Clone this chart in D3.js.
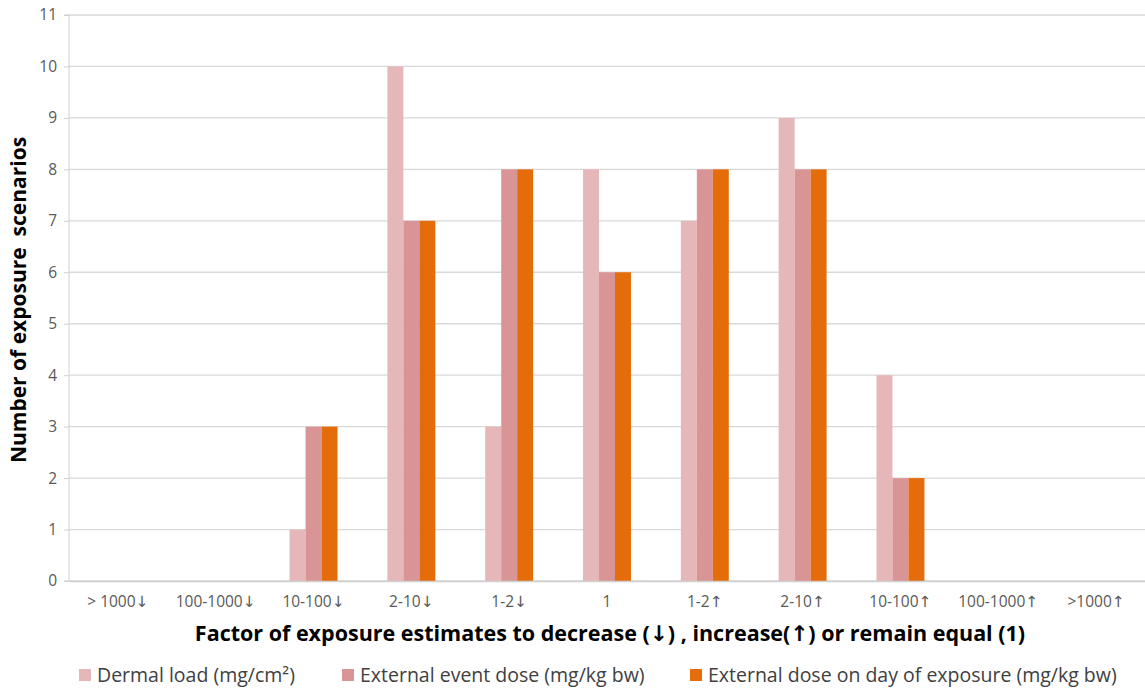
<!DOCTYPE html>
<html><head><meta charset="utf-8">
<script src="https://cdn.jsdelivr.net/npm/d3@7"></script>
<style>body{margin:0;background:#fff}svg{display:block}text{font-family:"Open Sans","Liberation Sans",sans-serif}</style>
</head><body><svg id="c" width="1145" height="691"></svg>
<script>
const categories = ["> 1000↓","100-1000↓","10-100↓","2-10↓","1-2↓","1","1-2↑","2-10↑","10-100↑","100-1000↑",">1000↑"];
const seriesNames = ["Dermal load (mg/cm²)","External event dose (mg/kg bw)","External dose on day of exposure (mg/kg bw)"];
const dermalLoad = [0,0,1,10,3,8,7,9,4,0,0];
const externalEventDose = [0,0,3,7,8,6,8,8,2,0,0];
const externalDoseDay = [0,0,3,7,8,6,8,8,2,0,0];
const yTicks = [0,1,2,3,4,5,6,7,8,9,10,11];
const colors = ["#E6B7B8","#D99595","#E46C0A"];
const series = [dermalLoad, externalEventDose, externalDoseDay];

const svg = d3.select("#c");
const m = {l:69, r:1145, t:15, b:581};
const x = d3.scaleBand().domain(categories).range([m.l, m.r]).paddingInner(0).paddingOuter(0);
const y = d3.scaleLinear().domain([0,11]).range([m.b, m.t]);
const groupW = x.bandwidth()*0.49;
const x1 = d3.scaleBand().domain(d3.range(3)).range([0, groupW]);

// split text so arrows render in a font with full-size arrow glyphs
function arrowText(sel, str) {
  sel.text(null);
  str.split(/([↑↓])/).filter(s => s.length).forEach(part => {
    const t = sel.append("tspan").text(part);
    if (part === "↑" || part === "↓") t.style("font-family", '"DejaVu Sans",sans-serif');
  });
}

// gridlines
svg.append("g").selectAll("line").data(yTicks).join("line")
  .attr("x1", m.l).attr("x2", m.r)
  .attr("y1", d=>y(d)).attr("y2", d=>y(d))
  .attr("stroke", "#d9d9d9").attr("stroke-width", 1.3);

// bars
series.forEach((vals, si) => {
  svg.append("g").selectAll("rect").data(categories.map((c,i)=>({c, v: vals[i]})).filter(d=>d.v>0)).join("rect")
    .attr("x", d => x(d.c) + (x.bandwidth()-groupW)/2 + x1(si))
    .attr("y", d => y(d.v))
    .attr("width", x1.bandwidth())
    .attr("height", d => y(0) - y(d.v))
    .attr("fill", colors[si]);
});

// y axis
const yAxis = d3.axisLeft(y).tickValues(yTicks).tickSize(5).tickPadding(7);
const ya = svg.append("g").attr("transform", `translate(${m.l},0)`).call(yAxis);
ya.select(".domain").attr("stroke", "#d0d0d0").attr("d", `M-5,${m.t}H0V${m.b}H-5`);
ya.selectAll(".tick line").attr("stroke", "#d0d0d0");
ya.selectAll(".tick text").attr("fill", "#595959").style("font-size", "15.5px");

// x axis
const xAxis = d3.axisBottom(x).tickSize(0).tickPadding(15);
const xa = svg.append("g").attr("transform", `translate(0,${m.b})`).call(xAxis);
xa.select(".domain").attr("stroke", "#d0d0d0").attr("stroke-width", 1.3);
xa.selectAll(".tick text").attr("fill", "#595959").style("font-size", "15.5px")
  .each(function(d){ arrowText(d3.select(this), d); });

// axis titles
const xt = svg.append("text").attr("x", 610).attr("y", 641).attr("text-anchor", "middle")
  .style("font-size", "21.5px").style("font-weight", "bold").attr("fill", "#000");
arrowText(xt, "Factor of exposure estimates to decrease (↓) , increase(↑) or remain equal (1)");
svg.append("text").attr("transform", "translate(26,300) rotate(-90)").attr("text-anchor", "middle")
  .style("font-size", "21px").style("font-weight", "bold").attr("fill", "#000")
  .style("white-space","pre")
  .text("Number of exposure  scenarios");

// legend
const legX = [79, 342, 690];
const lg = svg.append("g");
seriesNames.forEach((n, i) => {
  const g = lg.append("g").attr("transform", `translate(${legX[i]},675)`);
  g.append("rect").attr("x", 0).attr("y", -6).attr("width", 12).attr("height", 12).attr("fill", colors[i]);
  g.append("text").attr("x", 18).attr("y", 7).style("font-size", "19.5px").attr("fill", "#404040").text(n);
});
</script></body></html>
